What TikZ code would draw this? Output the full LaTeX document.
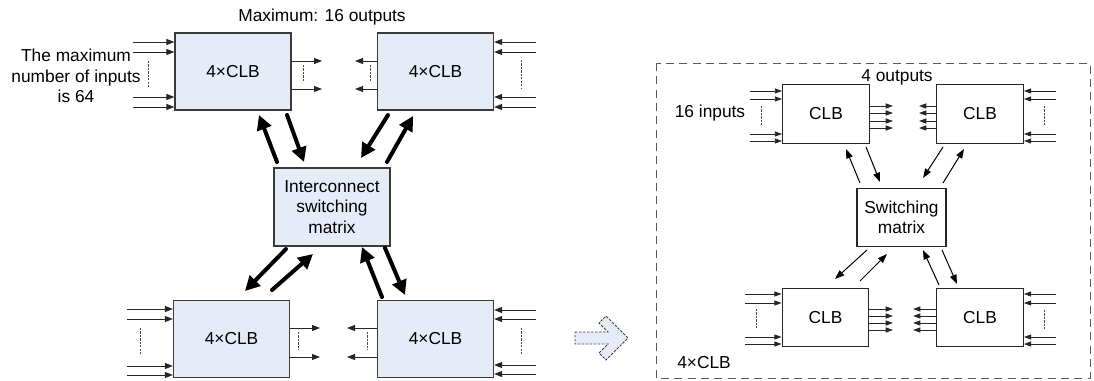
\documentclass[tikz,border=0pt]{standalone}
\usepackage{fontspec}
\setmainfont{Liberation Sans}
\usetikzlibrary{arrows.meta}
\definecolor{boxfill}{HTML}{E6ECF7}
\definecolor{boxdraw}{HTML}{3A3A3A}
\begin{document}
\begin{tikzpicture}[x=0.75pt,y=-0.75pt,
  font=\fontsize{13pt}{15.4pt}\selectfont,
  clb/.style={draw=boxdraw,fill=boxfill,line width=0.9pt,minimum width=87pt,minimum height=57.75pt,inner sep=0pt,align=center},
  rclb/.style={draw=black!85,fill=white,line width=0.8pt,minimum width=65pt,minimum height=44pt,inner sep=0pt,align=center},
  sig/.style={line width=0.7pt,draw=black!85,-{Triangle[length=6pt,width=4.5pt]}},
  sigs/.style={line width=0.7pt,draw=black!85,-{Triangle[length=5.5pt,width=3.8pt]}},
  busdash/.style={line width=0.5pt,dash pattern=on 1.6pt off 1pt,draw=black!70},
  bigarr/.style={line width=3pt,line cap=round,-{Triangle[length=11pt,width=11pt]}},
  thinarr/.style={line width=0.75pt,-{Triangle[length=7pt,width=5pt]}},
  lbl/.style={inner sep=0pt,align=center}
]
\useasboundingbox (0,0) rectangle (1094,381);

% ---------- left: 4xCLB blocks ----------
\node[clb] (tl) at (233,71.5) {4×CLB};
\node[clb] (tr) at (435.5,71.5) {4×CLB};
\node[clb] (bl) at (231.5,339) {4×CLB};
\node[clb] (br) at (435.5,339) {4×CLB};
\node[clb,minimum height=58.5pt] (ic) at (332,207) {Interconnect\\switching\\matrix};

\node[lbl] (maxout) at (322,17) {Maximum: 16 outputs};
\node[lbl] (maxin) at (76,76) {The maximum\\number of inputs\\is 64};

% inputs
\foreach \y [count=\i] in {42,52,97,107} {
  \coordinate (tli\i) at (133,\y); \draw[sig] (tli\i) -- (tli\i -| tl.west);
  \coordinate (tri\i) at (536,\y); \draw[sig] (tri\i) -- (tri\i -| tr.east);
}
\foreach \y [count=\i] in {309,319,366,375} {
  \coordinate (bli\i) at (127,\y); \draw[sig] (bli\i) -- (bli\i -| bl.west);
}
\foreach \y [count=\i] in {310,319,365,374} {
  \coordinate (bri\i) at (536,\y); \draw[sig] (bri\i) -- (bri\i -| br.east);
}
% outputs
\foreach \y [count=\i] in {61,89} {
  \coordinate (tlo\i) at (322,\y); \draw[sig] (tlo\i -| tl.east) -- (tlo\i);
  \coordinate (tro\i) at (355,\y); \draw[sig] (tro\i -| tr.west) -- (tro\i);
}
\foreach \y [count=\i] in {328,357} {
  \coordinate (blo\i) at (320,\y); \draw[sig] (blo\i -| bl.east) -- (blo\i);
  \coordinate (bro\i) at (347,\y); \draw[sig] (bro\i -| br.west) -- (bro\i);
}
% dashed bus marks
\draw[busdash] (148,61) -- (148,88);
\draw[busdash] (303,65) -- (303,82);
\draw[busdash] (370,65) -- (370,82);
\draw[busdash] (521,60) -- (521,88);
\draw[busdash] (140,328) -- (140,355);
\draw[busdash] (298,332) -- (298,350);
\draw[busdash] (367,332) -- (367,350);
\draw[busdash] (521,328) -- (521,355);

% thick arrows
\foreach \s/\t [count=\i] in {{277,162}/{259,115},{287,115}/{304,162},{388,115}/{361,158},{387,162}/{413,116},
  {286,249}/{245,291},{272,290}/{313,254},{382,297}/{362,247},{385,248}/{405,295}} {
  \coordinate (ta\i) at (\s); \coordinate (tb\i) at (\t);
  \draw[bigarr] (ta\i) -- (tb\i);
}

% block arrow
\draw[draw=black!75,fill=boxfill,line width=0.6pt,dash pattern=on 2pt off 1pt]
  (575,332) -- (608,332) -- (599,323) -- (606,316) -- (628,338) -- (606,360) -- (599,353) -- (608,344) -- (575,344) -- cycle;

% ---------- right: detail ----------
\coordinate (frA) at (656,63); \coordinate (frB) at (1090,378);
\draw[draw=black!65,line width=0.7pt,dash pattern=on 6pt off 4pt] (frA) rectangle (frB);

\node[rclb] (rtl) at (826,114) {CLB};
\node[rclb] (rtr) at (980,114) {CLB};
\node[rclb] (rbl) at (825.5,317.5) {CLB};
\node[rclb] (rbr) at (980,317.5) {CLB};
\node[rclb,minimum width=66.75pt] (sm) at (901.5,217.5) {Switching\\matrix};

\node[lbl] (fouro) at (897,77) {4 outputs};
\node[lbl] (sixin) at (710,113) {16 inputs};
\node[lbl,anchor=west] (fclb) at (677,363) {4×CLB};

\foreach \y [count=\i] in {91,99,134,141} {
  \coordinate (rtli\i) at (750,\y); \draw[sigs] (rtli\i) -- (rtli\i -| rtl.west);
  \coordinate (rtri\i) at (1056,\y); \draw[sigs] (rtri\i) -- (rtri\i -| rtr.east);
}
\foreach \y [count=\i] in {294,303,337,344} {
  \coordinate (rbli\i) at (745,\y); \draw[sigs] (rbli\i) -- (rbli\i -| rbl.west);
  \coordinate (rbri\i) at (1056,\y); \draw[sigs] (rbri\i) -- (rbri\i -| rbr.east);
}
\foreach \y [count=\i] in {106,113,121,128} {
  \coordinate (rtlo\i) at (893,\y); \draw[sigs] (rtlo\i -| rtl.east) -- (rtlo\i);
  \coordinate (rtro\i) at (919,\y); \draw[sigs] (rtro\i -| rtr.west) -- (rtro\i);
}
\foreach \y [count=\i] in {309,316,323,330} {
  \coordinate (rblo\i) at (893,\y); \draw[sigs] (rblo\i -| rbl.east) -- (rblo\i);
  \coordinate (rbro\i) at (913,\y); \draw[sigs] (rbro\i -| rbr.west) -- (rbro\i);
}
\draw[busdash] (761,106) -- (761,125);
\draw[busdash] (1044,106) -- (1044,125);
\draw[busdash] (756,309) -- (756,328);
\draw[busdash] (1044,310) -- (1044,330);

\foreach \s/\t [count=\i] in {{860,183}/{846,149},{866,147}/{880,182},{943,147}/{923,178},{943,183}/{964,149},
  {867,250}/{835,279},{860,281}/{887,254},{939,285}/{923,250},{942,250}/{957,284}} {
  \coordinate (sa\i) at (\s); \coordinate (sb\i) at (\t);
  \draw[thinarr] (sa\i) -- (sb\i);
}
\end{tikzpicture}
\end{document}
